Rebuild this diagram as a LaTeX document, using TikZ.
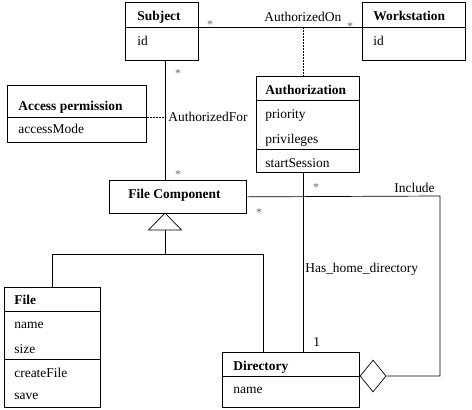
\documentclass[tikz,border=0pt]{standalone}
\usepackage{fontspec}
\setmainfont{Liberation Serif}
\usepackage{tikz}
\usetikzlibrary{calc}
\usetikzlibrary{positioning}
\usetikzlibrary{shapes.geometric}

\newcommand{\umlfont}{\fontsize{13.5}{16}\selectfont}

\begin{document}
\begin{tikzpicture}[x=1bp,y=-1bp,line width=0.7bp,
                    class box/.style={draw,anchor=north west,inner sep=0pt},
                    class name/.style={anchor=base west,inner sep=0pt,font=\umlfont\bfseries},
                    class attr/.style={anchor=base west,inner sep=0pt,font=\umlfont},
                    assoc label/.style={anchor=base west,inner sep=0pt,font=\umlfont},
                    multi/.style={inner sep=0pt,font=\fontsize{12}{12}\selectfont,text=black!60},
                    dashed line/.style={dash pattern=on 2bp off 1bp}]

    \tikzset{
        aggregation/.style={draw,diamond,fill=white,inner sep=0pt,aspect=0.8125,
            minimum width=26bp,minimum height=32bp}
    }

    \useasboundingbox (0,0) rectangle (472,409);

    % classes
    \node[class box,minimum width=73bp,minimum height=58bp] (subject) at (125,2) {};
    \draw ($(subject.north west)+(0,25)$) -- ($(subject.north east)+(0,25)$);
    \node[class name] (subjectname) at ($(subject.north west)+(12,18)$) {Subject};
    \node[class attr] (subjectid) at ($(subject.north west)+(12,43)$) {id};

    \node[class box,minimum width=103bp,minimum height=58bp] (workstation) at (362,2) {};
    \draw ($(workstation.north west)+(0,25)$) -- ($(workstation.north east)+(0,25)$);
    \node[class name] (workstationname) at ($(workstation.north west)+(11,18)$) {Workstation};
    \node[class attr] (workstationid) at ($(workstation.north west)+(11,43)$) {id};

    \node[class box,minimum width=103bp,minimum height=96bp] (authorization) at (256,76) {};
    \draw ($(authorization.north west)+(0,24)$) -- ($(authorization.north east)+(0,24)$);
    \draw ($(authorization.north west)+(0,73)$) -- ($(authorization.north east)+(0,73)$);
    \node[class name] (authorizationname) at ($(authorization.north west)+(9,18)$) {Authorization};
    \node[class attr] (priority) at ($(authorization.north west)+(9,42)$) {priority};
    \node[class attr] (privileges) at ($(authorization.north west)+(9,67)$) {privileges};
    \node[class attr] (startsession) at ($(authorization.north west)+(9,91)$) {startSession};

    \node[class box,minimum width=139bp,minimum height=57bp] (access) at (7,85) {};
    \draw ($(access.north west)+(0,32)$) -- ($(access.north east)+(0,32)$);
    \node[class name] (accessname) at ($(access.north west)+(11,25)$) {Access permission};
    \node[class attr] (accessmode) at ($(access.north west)+(11,48)$) {accessMode};

    \node[class box,minimum width=137bp,minimum height=33bp] (filecomp) at (109,180) {};
    \node[class name] (filecompname) at ($(filecomp.north west)+(19,18)$) {File Component};

    \node[class box,minimum width=96bp,minimum height=120bp] (file) at (4,287) {};
    \draw ($(file.north west)+(0,24)$) -- ($(file.north east)+(0,24)$);
    \draw ($(file.north west)+(0,72)$) -- ($(file.north east)+(0,72)$);
    \node[class name] (filename) at ($(file.north west)+(10,17)$) {File};
    \node[class attr] (name) at ($(file.north west)+(10,41)$) {name};
    \node[class attr] (size) at ($(file.north west)+(10,66)$) {size};
    \node[class attr] (createfile) at ($(file.north west)+(10,90)$) {createFile};
    \node[class attr] (save) at ($(file.north west)+(10,112)$) {save};

    \node[class box,minimum width=137bp,minimum height=55bp] (directory) at (222,352) {};
    \draw ($(directory.north west)+(0,24)$) -- ($(directory.north east)+(0,24)$);
    \node[class name] (directoryname) at ($(directory.north west)+(11,18)$) {Directory};
    \node[class attr] (directoryattr) at ($(directory.north west)+(11,41)$) {name};

    % connectors
    \coordinate (authon) at (303,27);
    \coordinate (authfor) at (165,117);
    \coordinate (gen) at (165,213);
    \coordinate (branch) at (165,254);
    \coordinate (dirbranch) at (263,254);
    \coordinate (inc) at (440,196);

    \draw (subject.east |- authon) -- (workstation.west |- authon);
    \draw[dashed line] (authon) -- (authon |- authorization.north);
    \draw (authfor |- subject.south) -- (authfor |- filecomp.north);
    \draw[dashed line] (access.east |- authfor) -- (authfor);

    \draw (gen) -- ++(16.5,17) -- ++(-33,0) -- cycle;
    \draw (gen) ++(0,17) -- (branch);
    \draw (file.north) |- (dirbranch) -- (dirbranch |- directory.north);

    \draw (authorization.south -| authon) -- (directory.north -| authon);

    \node[aggregation,anchor=west] (agg) at ($(directory.north east)+(0,24)$) {};
    \draw (filecomp.east) -- (inc) |- (agg.east);

    % labels
    \node[assoc label] (authonlabel) at (264,21) {AuthorizedOn};
    \node[assoc label] (authforlabel) at (168,121) {AuthorizedFor};
    \node[assoc label] (inclabel) at (394,192) {Include};
    \node[assoc label] (homelabel) at (305,272) {Has\_home\_directory};
    \node[assoc label] (onelabel) at (313,346) {1};

    \node[multi] (m1) at (210,25) {*};
    \node[multi] (m2) at (350,27) {*};
    \node[multi] (m3) at (178,74) {*};
    \node[multi] (m4) at (178,175) {*};
    \node[multi] (m5) at (316,188) {*};
    \node[multi] (m6) at (259,213) {*};
\end{tikzpicture}
\end{document}
